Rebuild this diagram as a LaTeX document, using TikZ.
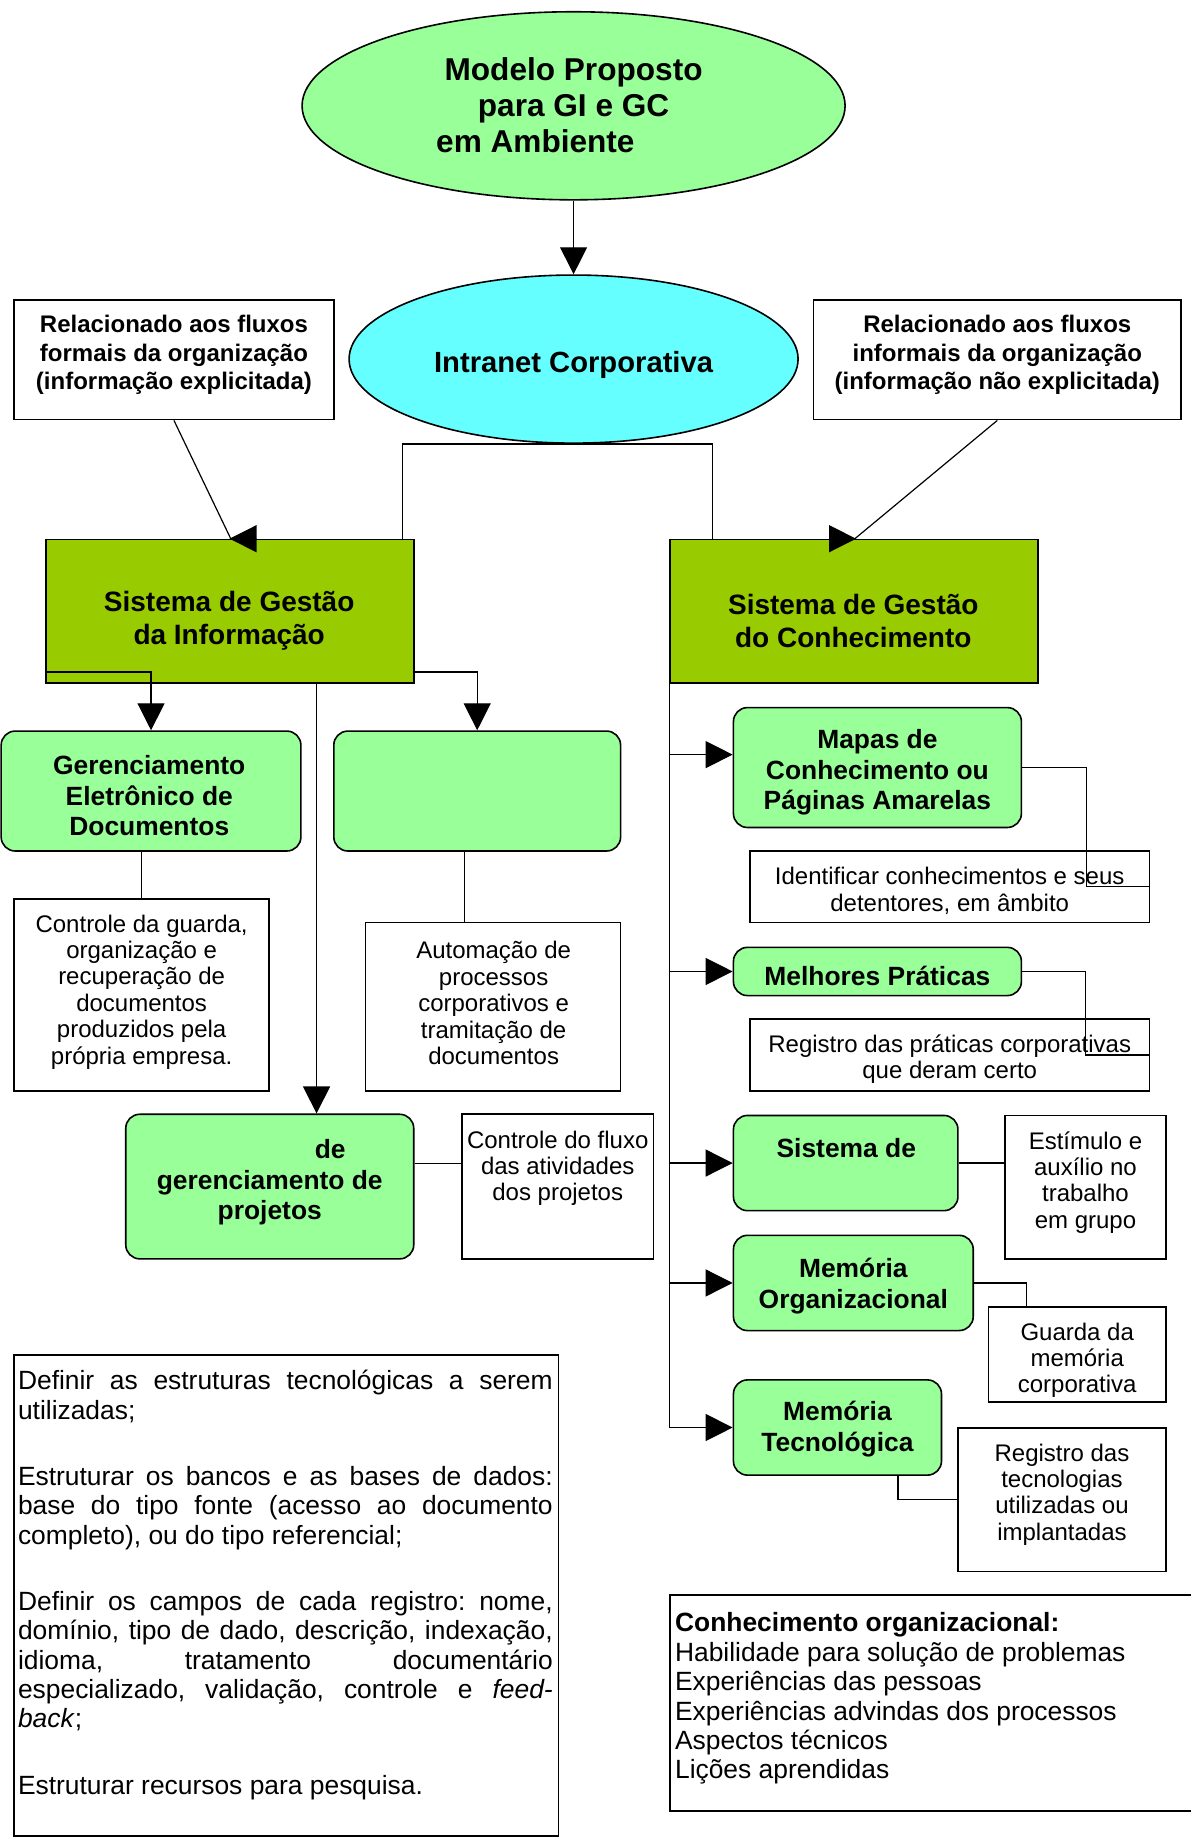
\documentclass[tikz,border=0pt]{standalone}
\usepackage{fontspec}
\setmainfont{Liberation Sans}
\usetikzlibrary{arrows.meta,calc,shapes.geometric}
\newcommand\pxu{0.5878pt}
\definecolor{lgreen}{HTML}{99FF99}
\definecolor{sgolive}{HTML}{99CC00}
\definecolor{sgcyan}{HTML}{66FFFF}
\begin{document}
\begin{tikzpicture}[x=0.5878pt,y=-0.5878pt,
  bx/.style={draw, line width=0.8pt, inner sep=0pt, rectangle},
  wbox/.style={bx, fill=white},
  gbox/.style={bx, fill=lgreen, rounded corners=7pt},
  obox/.style={bx, fill=sgolive},
  ell/.style={draw, line width=0.8pt, ellipse, inner sep=0pt},
  conn/.style={line width=0.6pt},
  arr/.style={conn, -{Triangle[length=13.5pt,width=13.5pt]}},
  ttitle/.style={inner sep=0pt, align=center, font=\bfseries\fontsize{15.8}{18.2}\selectfont},
  tintra/.style={inner sep=0pt, yshift=-1.7pt, align=center, font=\bfseries\fontsize{14.6}{16.8}\selectfont},
  tsg/.style={inner sep=0pt, yshift=-1.2pt, align=center, font=\bfseries\fontsize{14}{16.5}\selectfont},
  tg/.style={inner sep=0pt, yshift=-1.2pt, align=center, font=\bfseries\fontsize{13.2}{15.3}\selectfont},
  tsb/.style={inner sep=0pt, yshift=-1.7pt, align=center, font=\bfseries\fontsize{12}{14.1}\selectfont},
  tp/.style={inner sep=0pt, yshift=-1.7pt, align=center, font=\fontsize{12}{13.2}\selectfont},
  tbig/.style={inner sep=0pt, font=\fontsize{13.2}{14.7}\selectfont\frenchspacing}
]
\useasboundingbox (0,0) rectangle (1013,1568);

% ellipses
\node[ell, fill=lgreen, minimum width=462*\pxu, minimum height=160*\pxu] (e1) at (488,90) {};
\node[ttitle] (t1) at (488,89.5) {Modelo Proposto\\para GI e GC\\em Ambiente\hspace*{38.2pt}};
\node[ell, fill=sgcyan, minimum width=382*\pxu, minimum height=143*\pxu] (e2) at (488,305.5) {};
\node[tintra] (t2) at (488,308) {Intranet Corporativa};

% top label boxes
\node[wbox, minimum width=272*\pxu, minimum height=102*\pxu] (lb) at (148,306) {};
\node[tsb] (tlb) at (148,299) {Relacionado aos fluxos\\formais da organização\\(informação explicitada)};
\node[wbox, minimum width=313*\pxu, minimum height=102*\pxu] (rb) at (848.5,306) {};
\node[tsb] (trb) at (848.5,299) {Relacionado aos fluxos\\informais da organização\\(informação não explicitada)};

% system boxes
\node[obox, minimum width=313*\pxu, minimum height=122*\pxu] (sgi) at (195.5,520) {};
\node[tsg] (tsgi) at (195,526) {Sistema de Gestão\\da Informação};
\node[obox, minimum width=313*\pxu, minimum height=122*\pxu] (sgc) at (726.5,520) {};
\node[tsg] (tsgc) at (726,526) {Sistema de Gestão\\do Conhecimento};

% left column
\node[gbox, minimum width=255*\pxu, minimum height=102*\pxu] (ged) at (128.5,673) {};
\node[tg] (tged) at (127,675) {Gerenciamento\\Eletrônico de\\Documentos};
\node[gbox, minimum width=244*\pxu, minimum height=102*\pxu] (b2) at (406,673) {};
\node[wbox, minimum width=217*\pxu, minimum height=163*\pxu] (ctl) at (120.5,846.5) {};
\node[tp] (tctl) at (120.5,841) {Controle da guarda,\\organização e\\recuperação de\\documentos\\produzidos pela\\própria empresa.};
\node[wbox, minimum width=217*\pxu, minimum height=143*\pxu] (aut) at (419.5,856.5) {};
\node[tp] (taut) at (420,850.5) {Automação de\\processos\\corporativos e\\tramitação de\\documentos};
\node[gbox, minimum width=245*\pxu, minimum height=123*\pxu] (proj) at (229.5,1009.5) {};
\node[tg] (tproj) at (229.5,1004) {\hspace*{60.5pt}de\\gerenciamento de\\projetos};
\node[wbox, minimum width=163*\pxu, minimum height=123*\pxu] (cfl) at (474.5,1009.5) {};
\node[tp] (tcfl) at (474.5,991) {Controle do fluxo\\das atividades\\dos projetos};

% right column
\node[gbox, minimum width=245*\pxu, minimum height=102*\pxu] (map) at (746.5,653) {};
\node[tg] (tmap) at (746.5,655) {Mapas de\\Conhecimento ou\\Páginas Amarelas};
\node[wbox, minimum width=340*\pxu, minimum height=61*\pxu] (idf) at (808,754.5) {};
\node[tp] (tidf) at (808,755) {Identificar conhecimentos e seus\\detentores, em âmbito};
\node[gbox, minimum width=245*\pxu, minimum height=41*\pxu] (mel) at (746.5,826.5) {};
\node[tg] (tmel) at (746.5,828) {Melhores Práticas};
\node[wbox, minimum width=340*\pxu, minimum height=61*\pxu] (rpc) at (808,897.5) {};
\node[tp] (trpc) at (808,898) {Registro das práticas corporativas\\que deram certo};
\node[gbox, minimum width=191*\pxu, minimum height=81*\pxu] (sis) at (719.5,989.5) {};
\node[tg] (tsis) at (720,975) {Sistema de};
\node[wbox, minimum width=137*\pxu, minimum height=122*\pxu] (est) at (923.5,1010) {};
\node[tp] (test) at (923.5,1003) {Estímulo e\\auxílio no\\trabalho\\em grupo};
\node[gbox, minimum width=204*\pxu, minimum height=81*\pxu] (mo) at (726,1091.5) {};
\node[tg] (tmo) at (726,1092) {Memória\\Organizacional};
\node[wbox, minimum width=151*\pxu, minimum height=81*\pxu] (gua) at (916.5,1152.5) {};
\node[tp] (tgua) at (916.5,1154.5) {Guarda da\\memória\\corporativa};
\node[gbox, minimum width=177*\pxu, minimum height=81*\pxu] (mt) at (712.5,1214.5) {};
\node[tg] (tmt) at (712.5,1214) {Memória\\Tecnológica};
\node[wbox, minimum width=177*\pxu, minimum height=122*\pxu] (rt) at (903.5,1276) {};
\node[tp] (trt) at (903.5,1268.5) {Registro das\\tecnologias\\utilizadas ou\\implantadas};

% bottom boxes
\node[wbox, minimum width=463*\pxu, minimum height=409*\pxu] (bl) at (243.5,1357.5) {};
\node[tbig, anchor=north west, text width=267.4pt, align=justify] (tbl) at (15,1160) {%
\setlength\parindent{0pt}\setlength\parskip{0pt}\tolerance=10000 \hbadness=10000
\rule{0pt}{13pt}Definir as estruturas tecnológicas a serem\linebreak utilizadas;\par\vspace{18.4pt}
Estruturar os bancos e as bases de dados:\linebreak base do tipo fonte (acesso ao documento\linebreak completo), ou do tipo referencial;\par\vspace{18.4pt}
Definir os campos de cada registro: nome,\linebreak domínio, tipo de dado, descrição, indexação,\linebreak idioma, tratamento documentário\linebreak especializado, validação, controle e \textit{feed-}\linebreak \textit{back};\par\vspace{18.4pt}
Estruturar recursos para pesquisa.};
\node[wbox, minimum width=460*\pxu, minimum height=184*\pxu] (br) at (800,1449) {};
\node[tbig, anchor=north west, align=left] (tbr) at (574,1366) {\rule{0pt}{13pt}\textbf{Conhecimento organizacional:}\\Habilidade para solução de problemas\\Experiências das pessoas\\Experiências advindas dos processos\\Aspectos técnicos\\Lições aprendidas};

% connectors
\draw[arr] (e1.south) -- (e2.north);
\draw[conn] ($(sgi.north east)+(-10,0)$) |- (e2.south) -| ($(sgc.north west)+(37,0)$);
\coordinate (tipL) at ($(sgi.north west)+(157,0)$);
\draw[arr] (lb.south) -- ($(tipL)+(1,0)$) -- (tipL);
\coordinate (tipR) at ($(sgc.north west)+(159,0)$);
\draw[arr] (rb.south) -- ($(tipR)+(-1,0)$) -- (tipR);
\draw[arr] ($(sgi.south west)+(0,-10)$) -| (ged.north);
\draw[arr] ($(sgi.south east)+(0,-10)$) -| (b2.north);
\coordinate (sgiM) at ($(sgi.south west)+(231,0)$);
\draw[arr] (sgiM) -- (sgiM |- proj.north);
\draw[conn] (ctl.north |- ged.south) -- (ctl.north);
\coordinate (autT) at ($(aut.north)+(-24.5,0)$);
\draw[conn] (autT |- b2.south) -- (autT);
\draw[conn] ($(proj.east)+(0,-19.5)$) -- ($(cfl.west)+(0,-19.5)$);

\draw[arr] (sgc.south west) |- (mt.west);
\coordinate (mapIn) at ($(map.west)+(0,-11)$);
\draw[arr] (sgc.south west |- mapIn) -- (mapIn);
\draw[arr] (sgc.south west |- mel.west) -- (mel.west);
\draw[arr] (sgc.south west |- sis.west) -- (sis.west);
\draw[arr] (sgc.south west |- mo.west) -- (mo.west);
\draw[conn] (map.east) -| ($(idf.east)+(-54,0)$) -- (idf.east);
\draw[conn] (mel.east) -| ($(rpc.east)+(-55,0)$) -- (rpc.east);
\draw[conn] (sis.east) -- (sis.east -| est.west);
\draw[conn] (mo.east) -| ($(gua.north)+(-43.5,0)$);
\draw[conn] ($(mt.south)+(51.5,0)$) |- (rt.west);
\end{tikzpicture}
\end{document}
